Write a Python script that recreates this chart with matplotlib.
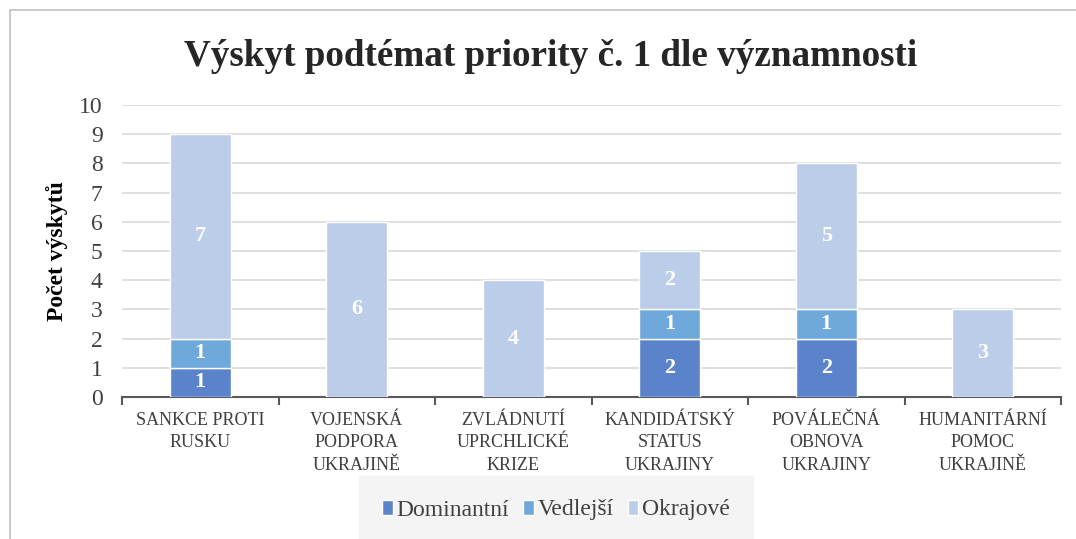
import matplotlib.pyplot as plt
from matplotlib.patches import Rectangle

# Data
kategorie = ['SANKCE PROTI\nRUSKU', 'VOJENSKÁ\nPODPORA\nUKRAJINĚ', 'ZVLÁDNUTÍ\nUPRCHLICKÉ\nKRIZE',
             'KANDIDÁTSKÝ\nSTATUS\nUKRAJINY', 'POVÁLEČNÁ\nOBNOVA\nUKRAJINY', 'HUMANITÁRNÍ\nPOMOC\nUKRAJINĚ']
dominantni = [1, 0, 0, 2, 2, 0]
vedlejsi = [1, 0, 0, 1, 1, 0]
okrajove = [7, 6, 4, 2, 5, 3]

barvy = ['#5B83CB', '#6FA8DB', '#BCCDEA']
nazvy = ['Dominantní', 'Vedlejší', 'Okrajové']

plt.rcParams['font.family'] = ['Liberation Serif', 'DejaVu Serif']

fig = plt.figure(figsize=(10.76, 5.39), dpi=100)
fig.patches.append(Rectangle((10 / 1076, -0.1), 1.2, 1 - 10 / 539 + 0.1, transform=fig.transFigure,
                             fill=False, edgecolor='#BFBFBF', linewidth=1.2))
ax = fig.add_axes([122 / 1076, 1 - 397 / 539, (1061 - 122) / 1076, (397 - 105) / 539])

x = range(len(kategorie))
spodek = [0] * len(kategorie)
for hodnoty, barva, nazev in zip([dominantni, vedlejsi, okrajove], barvy, nazvy):
    bars = ax.bar(x, hodnoty, 0.39, bottom=spodek, color=barva, edgecolor='white',
                  linewidth=1.0, label=nazev, zorder=3)
    for b, h, s in zip(bars, hodnoty, spodek):
        if h > 0:
            ax.text(b.get_x() + b.get_width() / 2, s + h / 2, str(h), ha='center', va='center',
                    color='white', fontsize=16, fontweight='bold', zorder=4)
    spodek = [s + h for s, h in zip(spodek, hodnoty)]

ax.set_ylim(0, 10)
ax.set_xlim(-0.5, 5.5)
ax.set_yticks(range(0, 11))
ax.yaxis.grid(True, color='#D9D9D9', linewidth=1.2, zorder=0)
ax.set_axisbelow(True)
for s in ['top', 'right', 'left']:
    ax.spines[s].set_visible(False)
ax.spines['bottom'].set_color('#595959')
ax.spines['bottom'].set_linewidth(1.5)
ax.tick_params(axis='y', length=0, labelsize=17, colors='#404040', pad=14)
ax.set_xticks(x)
ax.set_xticklabels(kategorie, fontsize=13, color='#404040', linespacing=1.4)
ax.set_xticks([i - 0.5 for i in range(len(kategorie) + 1)], minor=True)
ax.tick_params(axis='x', which='major', length=0, pad=11)
ax.tick_params(axis='x', which='minor', length=6, width=1.5, color='#595959')

ax.set_ylabel('Počet výskytů', fontsize=17, fontweight='bold', color='black', labelpad=8)
fig.text(0.512, 1 - 57 / 539, 'Výskyt podtémat priority č. 1 dle významnosti',
         ha='center', va='center', fontsize=26.7, fontweight='bold', color='#262626')

leg = ax.legend(loc='center', bbox_to_anchor=(556 / 1076, 1 - 510 / 539), bbox_transform=fig.transFigure,
                ncol=3, frameon=True, fontsize=17, handlelength=0.45, handleheight=0.6,
                handletextpad=0.15, columnspacing=0.6, borderpad=0.7)
leg.get_frame().set_facecolor('#F2F2F2')
leg.get_frame().set_edgecolor('#F2F2F2')
leg.get_frame().set_boxstyle('square')
for t in leg.get_texts():
    t.set_color('#404040')

fig.savefig('out.png', dpi=100)
